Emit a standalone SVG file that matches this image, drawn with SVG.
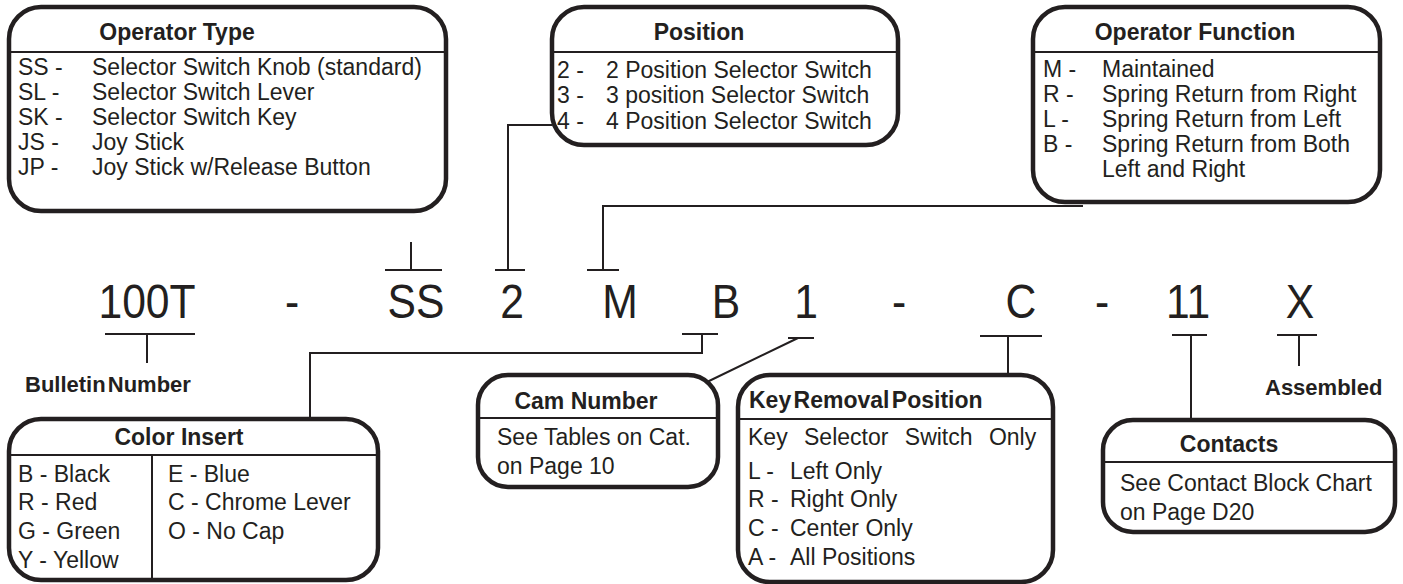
<svg xmlns="http://www.w3.org/2000/svg" width="1403" height="584" viewBox="0 0 1403 584">
<style>
text{font-family:"Liberation Sans",Arial,Helvetica,sans-serif;fill:#231f20}
.box{fill:#fff;stroke:#231f20;stroke-width:4.5}
.hl{stroke:#231f20;stroke-width:2;fill:none}
.ln{stroke:#231f20;stroke-width:2;fill:none}
.h{font-weight:bold;font-size:23px}
.t{font-size:23px}
.code{font-size:49px;text-anchor:middle}
.lbl{font-weight:bold;font-size:22px}
.mid{text-anchor:middle}
</style>
<rect width="1403" height="584" fill="#fff"/>

<g id="operator-type">
<rect class="box" x="9" y="7" width="437" height="204" rx="32"/>
<line class="hl" x1="9" y1="52" x2="446" y2="52"/>
<text class="h mid" x="177" y="40">Operator Type</text>
<text class="t" x="18" y="75">SS -</text><text class="t" x="92" y="75">Selector Switch Knob (standard)</text>
<text class="t" x="18" y="100">SL -</text><text class="t" x="92" y="100">Selector Switch Lever</text>
<text class="t" x="18" y="125">SK -</text><text class="t" x="92" y="125">Selector Switch Key</text>
<text class="t" x="18" y="150">JS -</text><text class="t" x="92" y="150">Joy Stick</text>
<text class="t" x="18" y="175">JP -</text><text class="t" x="92" y="175">Joy Stick w/Release Button</text>
</g>

<g id="position">
<rect class="box" x="552" y="7" width="346" height="138" rx="32"/>
<line class="hl" x1="552" y1="52" x2="898" y2="52"/>
<text class="h mid" x="699" y="40">Position</text>
<text class="t" x="557" y="78">2 -</text><text class="t" x="606" y="78">2 Position Selector Switch</text>
<text class="t" x="557" y="103">3 -</text><text class="t" x="606" y="103">3 position Selector Switch</text>
<text class="t" x="557" y="129">4 -</text><text class="t" x="606" y="129">4 Position Selector Switch</text>
</g>

<g id="operator-function">
<rect class="box" x="1033" y="7" width="347" height="195" rx="32"/>
<line class="hl" x1="1033" y1="52" x2="1380" y2="52"/>
<text class="h mid" x="1195" y="40">Operator Function</text>
<text class="t" x="1043" y="77">M -</text><text class="t" x="1102" y="77">Maintained</text>
<text class="t" x="1043" y="102">R -</text><text class="t" x="1102" y="102">Spring Return from Right</text>
<text class="t" x="1043" y="127">L -</text><text class="t" x="1102" y="127">Spring Return from Left</text>
<text class="t" x="1043" y="152">B -</text><text class="t" x="1102" y="152">Spring Return from Both</text>
<text class="t" x="1102" y="177">Left and Right</text>
</g>

<g id="code">
<text class="code" transform="translate(147 318) scale(0.87 1)">100T</text>
<text class="code" transform="translate(292 318) scale(0.87 1)">-</text>
<text class="code" transform="translate(416 318) scale(0.87 1)">SS</text>
<text class="code" transform="translate(512 318) scale(0.87 1)">2</text>
<text class="code" transform="translate(620 318) scale(0.87 1)">M</text>
<text class="code" transform="translate(726 318) scale(0.87 1)">B</text>
<text class="code" transform="translate(806 318) scale(0.87 1)">1</text>
<text class="code" transform="translate(899 318) scale(0.87 1)">-</text>
<text class="code" transform="translate(1021 318) scale(0.87 1)">C</text>
<text class="code" transform="translate(1102 318) scale(0.87 1)">-</text>
<text class="code" transform="translate(1188 318) scale(0.87 1)">11</text>
<text class="code" transform="translate(1300 318) scale(0.87 1)">X</text>
</g>

<g id="bulletin-number">
<text class="lbl" x="25" y="392" style="word-spacing:-4px">Bulletin Number</text>
</g>

<g id="assembled">
<text class="lbl" x="1265" y="395">Assembled</text>
</g>

<g id="connectors">
<path class="ln" d="M105 334H195M147 334V363"/>
<path class="ln" d="M385 270H442M411 270V242"/>
<path class="ln" d="M495 270H525M508 270V125H552"/>
<path class="ln" d="M587 270H619M603 270V206H1083"/>
<path class="ln" d="M682 334H718M702 334V353H310V419"/>
<path class="ln" d="M788 338H814M798 338L707 382"/>
<path class="ln" d="M980 336H1042M1008 336V375"/>
<path class="ln" d="M1172 335H1207M1191 335V420"/>
<path class="ln" d="M1277 335H1317M1299 335V366"/>
</g>

<g id="color-insert">
<rect class="box" x="9" y="419" width="369" height="161" rx="32"/>
<line class="hl" x1="9" y1="455" x2="378" y2="455"/>
<line class="hl" x1="152" y1="455" x2="152" y2="580"/>
<text class="h mid" x="179" y="445">Color Insert</text>
<text class="t" x="18" y="482">B - Black</text>
<text class="t" x="18" y="510">R - Red</text>
<text class="t" x="18" y="539">G - Green</text>
<text class="t" x="18" y="568">Y - Yellow</text>
<text class="t" x="168" y="482">E -  Blue</text>
<text class="t" x="168" y="510">C - Chrome Lever</text>
<text class="t" x="168" y="539">O - No Cap</text>
</g>

<g id="cam-number">
<rect class="box" x="478" y="375" width="240" height="112" rx="30"/>
<line class="hl" x1="478" y1="418" x2="718" y2="418"/>
<text class="h mid" x="586" y="409">Cam Number</text>
<text class="t" x="497" y="445">See Tables on Cat.</text>
<text class="t" x="497" y="474">on Page 10</text>
</g>

<g id="key-removal-position">
<rect class="box" x="738" y="375" width="315" height="207" rx="32"/>
<line class="hl" x1="738" y1="419" x2="1053" y2="419"/>
<text class="h" x="749" y="408" style="word-spacing:-4px">Key Removal Position</text>
<text class="t" x="748" y="445" style="word-spacing:10px">Key Selector Switch Only</text>
<text class="t" x="748" y="479">L -</text><text class="t" x="790" y="479">Left Only</text>
<text class="t" x="748" y="507">R -</text><text class="t" x="790" y="507">Right Only</text>
<text class="t" x="748" y="536">C -</text><text class="t" x="790" y="536">Center Only</text>
<text class="t" x="748" y="565">A -</text><text class="t" x="790" y="565">All Positions</text>
</g>

<g id="contacts">
<rect class="box" x="1103" y="420" width="292" height="112" rx="30"/>
<line class="hl" x1="1103" y1="462" x2="1395" y2="462"/>
<text class="h mid" x="1229" y="452">Contacts</text>
<text class="t" x="1120" y="491">See Contact Block Chart</text>
<text class="t" x="1120" y="520">on Page D20</text>
</g>
</svg>
